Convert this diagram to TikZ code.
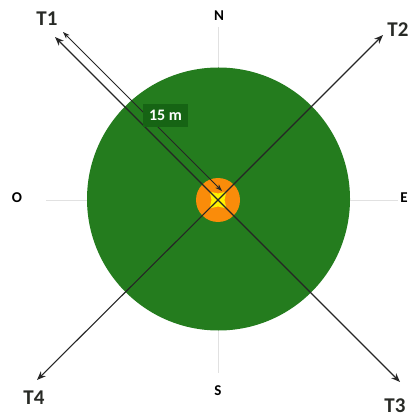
\documentclass[tikz,border=0pt]{standalone}
\usepackage{fontspec}
\setmainfont{Carlito}
\usetikzlibrary{arrows.meta,shapes.geometric}
\definecolor{fieldgreen}{RGB}{36,124,30}
\definecolor{labelgreen}{RGB}{22,100,20}
\definecolor{ringorange}{RGB}{250,140,10}
\definecolor{axisgray}{RGB}{225,225,225}
\definecolor{txtdark}{RGB}{40,42,38}
\tikzset{
  axisline/.style={draw=axisgray, line width=0.8pt},
  dirarrow/.style={draw=black!85, line width=1.1pt, -{Stealth[length=9pt,width=7pt]}},
  dimarrow/.style={draw=black!85, line width=0.9pt, {Stealth[length=7pt,width=5pt]}-{Stealth[length=7pt,width=5pt]}},
  tlabel/.style={font=\fontsize{21}{21}\selectfont\bfseries, text=txtdark, inner sep=0pt},
  cardlabel/.style={font=\fontsize{15}{15}\selectfont\bfseries, text=black, inner sep=0pt},
}
\begin{document}
\begin{tikzpicture}[x=1pt,y=-1pt]
\useasboundingbox (0,0) rectangle (411,419);
% axes
\coordinate (c) at (218,200);
\coordinate (axW) at (46,200);
\coordinate (axE) at (398,200);
\coordinate (axN) at (218,27);
\coordinate (axS) at (218,373);
\draw[axisline] (axW) -- (axE);
\draw[axisline] (axN) -- (axS);
% field
\fill[fieldgreen] (218.5,199) circle (131.5);
% centre
\fill[ringorange] (c) circle (22);
\node[star, star points=4, star point ratio=0.55, fill=yellow, minimum size=13pt, inner sep=0pt] (ctr) at (c) {};
% direction arrows
\coordinate (e1) at (55,37);
\coordinate (e2) at (383,35);
\coordinate (e3) at (400,382);
\coordinate (e4) at (37,380);
\draw[dirarrow] (c) -- (e1);
\draw[dirarrow] (c) -- (e2);
\draw[dirarrow] (c) -- (e3);
\draw[dirarrow] (c) -- (e4);
% dimension line
\coordinate (d1) at (63,32);
\coordinate (d2) at (222,191);
\draw[dimarrow] (d1) -- (d2);
\node[fill=labelgreen, text=white, font=\fontsize{16}{16}\selectfont\bfseries, minimum width=45pt, minimum height=23pt, inner sep=0pt] (dim) at (165.5,115.5) {15 m};
% labels
\node[tlabel] (T1) at (47,19) {T1};
\node[tlabel] (T2) at (398,30) {T2};
\node[tlabel] (T3) at (395,406) {T3};
\node[tlabel] (T4) at (34,398) {T4};
\node[cardlabel] (N) at (219,16) {N};
\node[cardlabel] (S) at (218,391) {S};
\node[cardlabel] (O) at (17,198) {O};
\node[cardlabel] (E) at (404,198) {E};
\end{tikzpicture}
\end{document}
